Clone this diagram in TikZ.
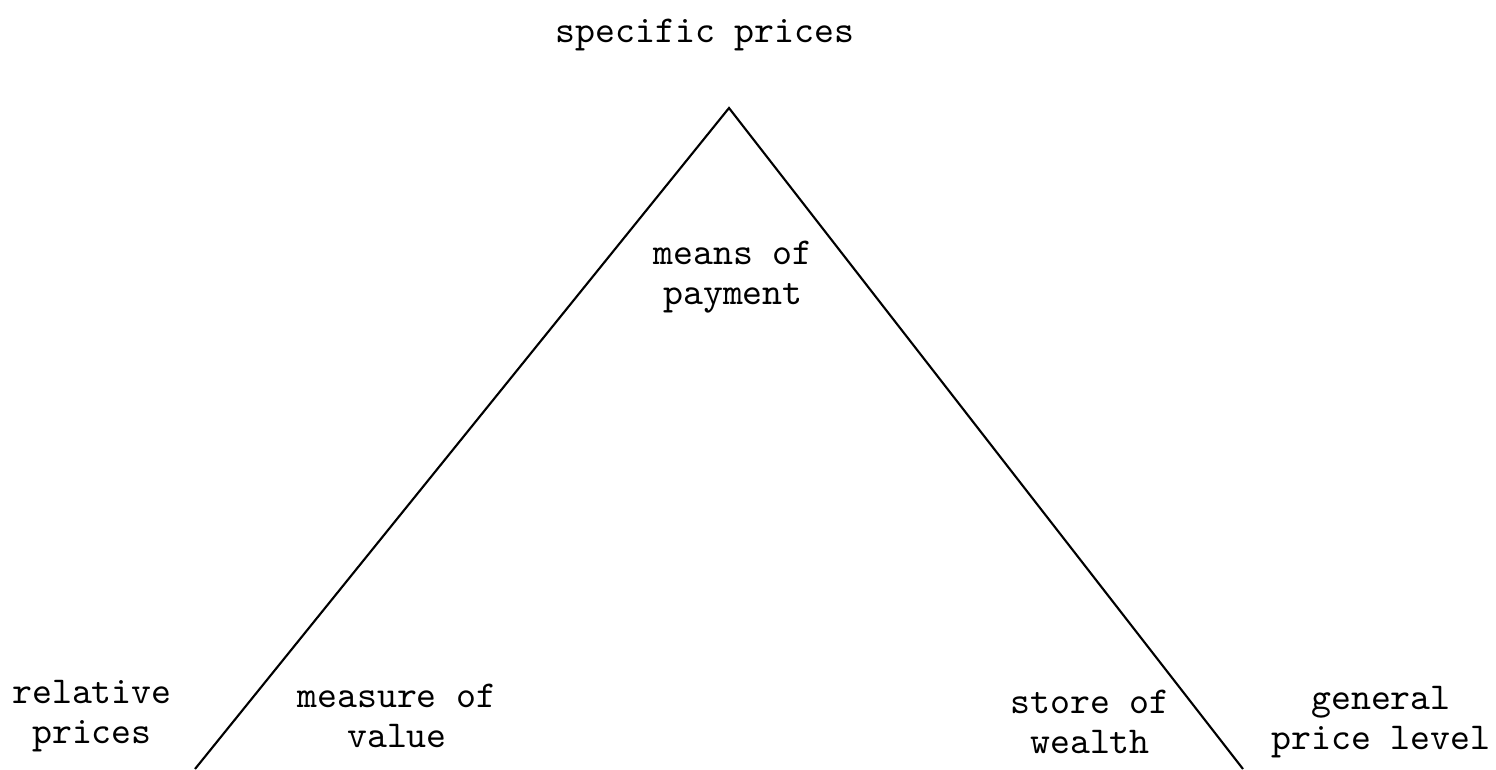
\documentclass[tikz,border=0pt]{standalone}
\usetikzlibrary{positioning}

\tikzset{
    lbl/.style={align=center, inner sep=0pt, font=\ttfamily\fontsize{10.8}{11.4}\selectfont},
    side/.style={draw=black, line width=0.6pt}
}

\begin{document}
\begin{tikzpicture}[x=0.01cm, y=-0.01cm]
    % frame of the page
    \useasboundingbox (0,0) rectangle (1496,769);

    % corners of the triangle
    \coordinate (apex) at (729,108);
    \coordinate (leftfoot) at (195,769);
    \coordinate (rightfoot) at (1243,769);
    \draw[side] (leftfoot) -- (apex) -- (rightfoot);

    % labels outside the triangle
    \node[lbl] (specific) at (705,35) {specific prices};
    \node[lbl] (relative) at (92,716) {relative\\prices};
    \node[lbl] (general) at (1381,722) {general\\price level};

    % labels inside the triangle
    \node[lbl] (payment) at (733,277) {means of\\payment};
    \node[lbl] (measure) at (397,716) {measure of\\value};
    \node[lbl] (store) at (1090,722) {store of\\wealth};
\end{tikzpicture}
\end{document}
